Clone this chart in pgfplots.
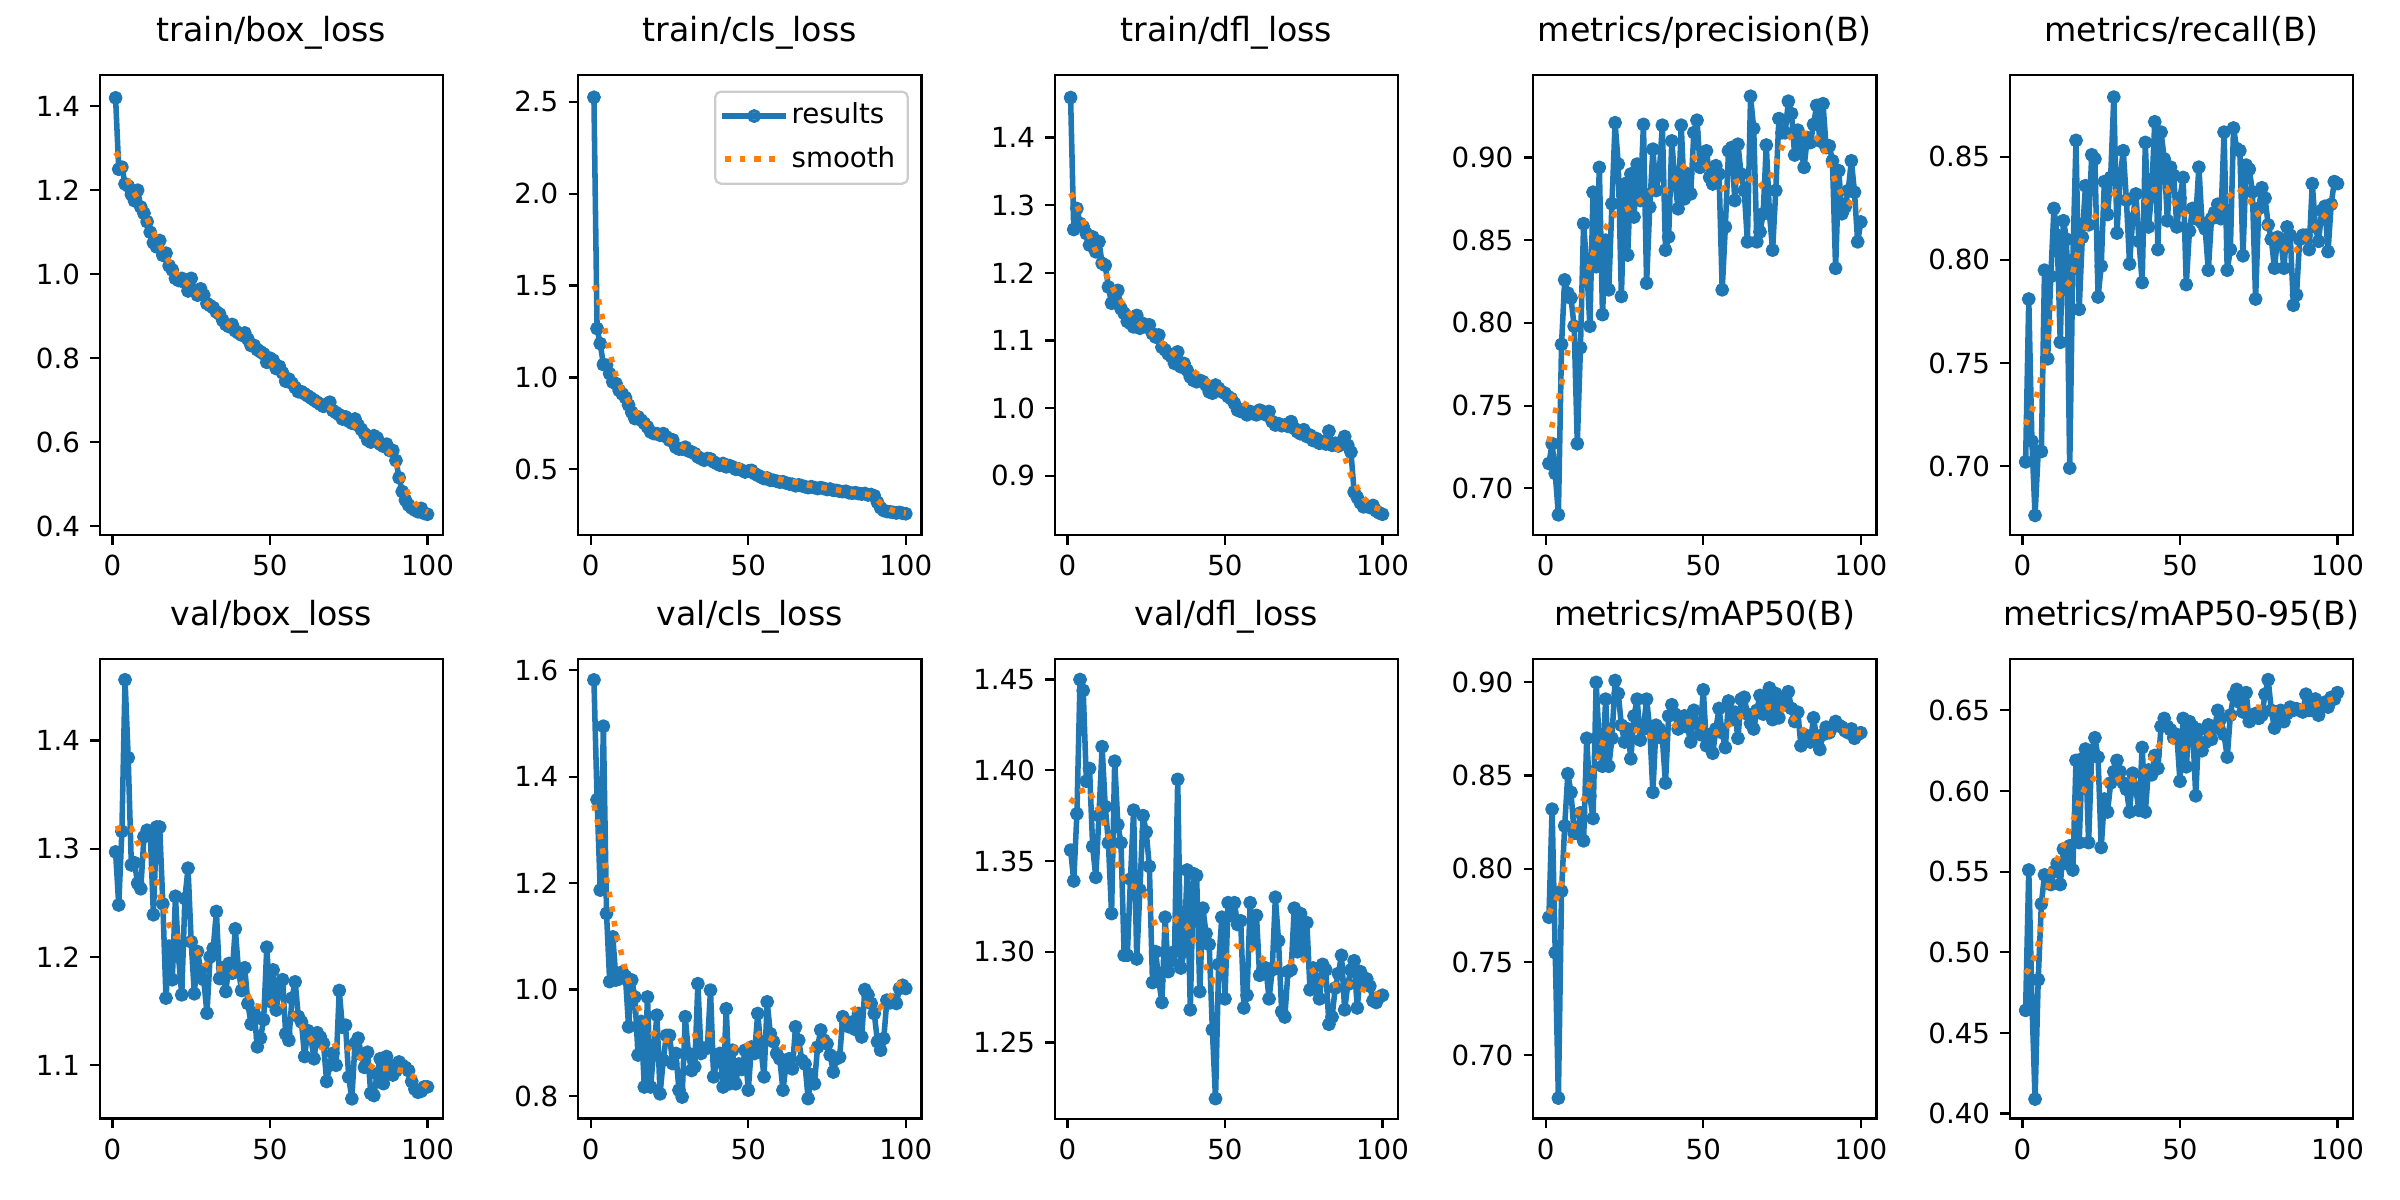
\documentclass[border=0pt]{standalone}
\usepackage{fontspec}
\setmainfont{DejaVu Sans}
\usepackage{pgfplots}
\usepackage{pgfplotstable}
\pgfplotsset{compat=1.18}

\definecolor{tabblue}{HTML}{1F77B4}
\definecolor{taborange}{HTML}{FF7F0E}
\definecolor{legframe}{rgb}{0.8,0.8,0.8}

% per-epoch results of the training run
\pgfplotstableread{
ep tbox tcls tdfl prec rec vbox vcls vdfl mfifty mrange
1 1.420 2.525 1.459 0.715 0.702 1.297 1.582 1.356 0.774 0.464
2 1.250 1.266 1.264 0.727 0.781 1.248 1.357 1.339 0.832 0.551
3 1.255 1.184 1.295 0.709 0.712 1.316 1.187 1.376 0.755 0.470
4 1.215 1.070 1.273 0.684 0.676 1.456 1.495 1.450 0.677 0.409
5 1.210 1.066 1.268 0.787 0.707 1.384 1.143 1.444 0.788 0.483
6 1.190 1.020 1.258 0.826 0.707 1.285 1.015 1.394 0.823 0.530
7 1.175 0.975 1.241 0.818 0.795 1.287 1.099 1.401 0.851 0.548
8 1.200 0.966 1.253 0.815 0.752 1.268 1.018 1.358 0.841 0.546
9 1.160 0.930 1.231 0.798 0.792 1.263 1.020 1.341 0.819 0.542
10 1.145 0.910 1.246 0.727 0.825 1.311 1.033 1.375 0.819 0.550
11 1.125 0.890 1.214 0.785 0.812 1.317 1.025 1.413 0.830 0.555
12 1.100 0.850 1.211 0.860 0.760 1.316 0.930 1.380 0.815 0.542
13 1.075 0.810 1.179 0.834 0.819 1.239 1.018 1.360 0.870 0.564
14 1.065 0.776 1.155 0.798 0.810 1.320 0.986 1.321 0.839 0.555
15 1.080 0.785 1.169 0.879 0.699 1.320 0.877 1.405 0.827 0.566
16 1.045 0.767 1.174 0.834 0.800 1.249 0.940 1.370 0.900 0.551
17 1.050 0.750 1.147 0.894 0.858 1.162 0.817 1.360 0.866 0.619
18 1.020 0.730 1.140 0.805 0.776 1.210 0.986 1.298 0.855 0.568
19 1.010 0.703 1.128 0.850 0.811 1.179 0.817 1.298 0.891 0.620
20 0.990 0.694 1.125 0.820 0.836 1.256 0.886 1.340 0.855 0.626
21 0.985 0.694 1.120 0.872 0.817 1.200 0.952 1.378 0.870 0.568
22 0.990 0.685 1.137 0.921 0.851 1.165 0.804 1.296 0.901 0.625
23 0.980 0.694 1.118 0.896 0.849 1.254 0.867 1.334 0.894 0.633
24 0.960 0.676 1.125 0.816 0.782 1.282 0.914 1.375 0.877 0.621
25 0.990 0.658 1.120 0.884 0.797 1.214 0.914 1.366 0.868 0.565
26 0.960 0.660 1.123 0.841 0.838 1.166 0.861 1.347 0.875 0.595
27 0.950 0.620 1.110 0.890 0.822 1.205 0.880 1.283 0.859 0.587
28 0.965 0.610 1.105 0.864 0.840 1.188 0.811 1.300 0.882 0.605
29 0.950 0.610 1.108 0.896 0.879 1.179 0.798 1.284 0.891 0.612
30 0.930 0.620 1.090 0.874 0.813 1.148 0.949 1.272 0.869 0.619
31 0.925 0.600 1.086 0.920 0.840 1.200 0.880 1.319 0.875 0.612
32 0.920 0.594 1.080 0.824 0.853 1.208 0.848 1.289 0.891 0.605
33 0.910 0.585 1.076 0.870 0.829 1.242 0.855 1.295 0.875 0.601
34 0.905 0.567 1.066 0.905 0.798 1.180 1.011 1.300 0.841 0.587
35 0.890 0.558 1.083 0.880 0.820 1.190 0.880 1.395 0.877 0.611
36 0.880 0.549 1.061 0.890 0.832 1.168 0.890 1.291 0.875 0.601
37 0.875 0.558 1.066 0.9195 0.809 1.194 0.890 1.300 0.870 0.588
38 0.880 0.556 1.056 0.844 0.789 1.185 0.999 1.345 0.846 0.627
39 0.865 0.540 1.046 0.852 0.857 1.226 0.836 1.268 0.882 0.587
40 0.860 0.531 1.041 0.910 0.816 1.188 0.867 1.343 0.888 0.613
41 0.855 0.522 1.039 0.885 0.832 1.169 0.880 1.342 0.883 0.610
42 0.860 0.531 1.041 0.869 0.867 1.190 0.817 1.278 0.875 0.622
43 0.845 0.513 1.039 0.9195 0.805 1.157 0.964 1.324 0.880 0.614
44 0.830 0.520 1.034 0.875 0.862 1.138 0.823 1.310 0.882 0.640
45 0.830 0.513 1.024 0.890 0.849 1.148 0.886 1.304 0.876 0.645
46 0.820 0.500 1.022 0.878 0.819 1.117 0.823 1.257 0.868 0.640
47 0.815 0.502 1.034 0.915 0.845 1.125 0.860 1.219 0.885 0.638
48 0.810 0.494 1.029 0.9225 0.841 1.142 0.850 1.293 0.878 0.633
49 0.790 0.485 1.024 0.894 0.816 1.209 0.886 1.319 0.872 0.635
50 0.800 0.490 1.022 0.900 0.830 1.159 0.811 1.274 0.896 0.606
51 0.795 0.494 1.017 0.904 0.840 1.188 0.892 1.327 0.866 0.645
52 0.775 0.476 1.014 0.888 0.788 1.151 0.880 1.320 0.872 0.615
53 0.780 0.467 1.007 0.884 0.814 1.172 0.955 1.327 0.862 0.643
54 0.765 0.458 0.997 0.895 0.825 1.179 0.890 1.315 0.875 0.640
55 0.745 0.449 0.995 0.890 0.820 1.129 0.836 1.317 0.886 0.597
56 0.750 0.452 0.998 0.820 0.845 1.123 0.977 1.269 0.873 0.638
57 0.740 0.440 0.990 0.858 0.818 1.162 0.917 1.276 0.865 0.625
58 0.730 0.440 0.995 0.904 0.815 1.177 0.902 1.327 0.890 0.630
59 0.720 0.435 0.992 0.906 0.795 1.145 0.880 1.305 0.880 0.641
60 0.720 0.430 0.990 0.874 0.820 1.140 0.870 1.320 0.884 0.632
61 0.715 0.432 0.997 0.908 0.823 1.108 0.811 1.287 0.870 0.639
62 0.710 0.425 0.995 0.890 0.827 1.132 0.860 1.290 0.891 0.650
63 0.705 0.420 0.990 0.880 0.820 1.125 0.870 1.291 0.892 0.645
64 0.700 0.418 0.995 0.849 0.862 1.106 0.851 1.274 0.883 0.635
65 0.695 0.410 0.980 0.937 0.795 1.130 0.930 1.290 0.878 0.621
66 0.690 0.415 0.975 0.9175 0.805 1.126 0.905 1.330 0.875 0.647
67 0.685 0.410 0.977 0.849 0.864 1.120 0.867 1.306 0.885 0.659
68 0.690 0.405 0.974 0.855 0.854 1.085 0.860 1.267 0.893 0.663
69 0.695 0.400 0.975 0.866 0.853 1.100 0.795 1.264 0.883 0.655
70 0.675 0.405 0.973 0.9075 0.802 1.111 0.840 1.289 0.890 0.649
71 0.670 0.400 0.980 0.866 0.846 1.100 0.823 1.290 0.897 0.661
72 0.665 0.395 0.970 0.844 0.844 1.169 0.892 1.324 0.880 0.643
73 0.655 0.400 0.965 0.880 0.833 1.135 0.924 1.300 0.894 0.645
74 0.660 0.395 0.962 0.9235 0.781 1.137 0.905 1.321 0.881 0.648
75 0.650 0.390 0.968 0.915 0.825 1.089 0.898 1.300 0.891 0.645
76 0.645 0.392 0.958 0.915 0.835 1.069 0.877 1.316 0.888 0.647
77 0.655 0.385 0.960 0.934 0.830 1.120 0.845 1.279 0.895 0.660
78 0.640 0.385 0.952 0.9265 0.817 1.125 0.870 1.291 0.886 0.669
79 0.630 0.380 0.955 0.9015 0.810 1.110 0.873 1.285 0.879 0.650
80 0.620 0.378 0.948 0.9165 0.796 1.098 0.949 1.274 0.884 0.639
81 0.605 0.380 0.950 0.905 0.811 1.112 0.936 1.293 0.866 0.645
82 0.600 0.372 0.947 0.894 0.810 1.074 0.930 1.290 0.872 0.650
83 0.615 0.370 0.966 0.912 0.796 1.072 0.939 1.260 0.870 0.643
84 0.610 0.372 0.945 0.909 0.816 1.092 0.925 1.264 0.868 0.648
85 0.595 0.368 0.948 0.920 0.812 1.106 0.955 1.280 0.881 0.652
86 0.590 0.365 0.944 0.9315 0.778 1.083 0.911 1.288 0.870 0.650
87 0.595 0.368 0.950 0.910 0.783 1.108 1.000 1.298 0.864 0.651
88 0.580 0.360 0.958 0.9325 0.810 1.100 0.990 1.268 0.872 0.650
89 0.580 0.362 0.945 0.906 0.812 1.091 0.974 1.282 0.876 0.649
90 0.556 0.355 0.935 0.907 0.812 1.095 0.955 1.290 0.873 0.660
91 0.515 0.320 0.876 0.898 0.805 1.103 0.902 1.295 0.876 0.650
92 0.482 0.290 0.868 0.833 0.837 1.100 0.886 1.269 0.879 0.650
93 0.462 0.275 0.860 0.892 0.816 1.098 0.908 1.289 0.877 0.657
94 0.450 0.270 0.854 0.866 0.809 1.095 0.980 1.283 0.876 0.647
95 0.443 0.268 0.855 0.870 0.824 1.085 0.975 1.285 0.874 0.652
96 0.438 0.265 0.853 0.880 0.826 1.078 0.980 1.281 0.873 0.655
97 0.434 0.262 0.856 0.898 0.804 1.075 0.974 1.273 0.875 0.652
98 0.442 0.265 0.848 0.879 0.827 1.076 1.002 1.272 0.870 0.658
99 0.430 0.260 0.845 0.849 0.838 1.080 1.008 1.275 0.872 0.657
100 0.428 0.258 0.843 0.861 0.837 1.080 1.002 1.276 0.873 0.661
}\results

\pgfplotsset{
  panel/.style={
    scale only axis, width=123.5bp, height=165.5bp, anchor=south west,
    xmin=-3.95, xmax=104.95, xtick={0,50,100},
    tick align=outside, tick pos=left, major tick length=3.5bp,
    every tick/.style={black, line width=0.8bp},
    axis line style={line width=0.8bp},
    ticklabel style={font=\fontsize{10}{12}\selectfont, inner sep=0pt},
    xticklabel style={yshift=-3.5bp},
    yticklabel style={xshift=-3.5bp},
    /pgf/number format/assume math mode=true,
    scaled y ticks=false,
    clip marker paths=true,
    title style={font=\fontsize{12}{14}\selectfont, anchor=base, yshift=6bp, inner sep=0pt},
    legend image code/.code={\draw[mark repeat=2,mark phase=2,##1] plot coordinates {(0bp,0bp) (10.5bp,0bp) (21bp,0bp)};},
  },
  yprec/.style={yticklabel style={/pgf/number format/.cd, fixed, fixed zerofill, precision=#1}},
  res/.style={tabblue, line width=2bp, line join=round, line cap=rect, mark=*, mark size=2bp, mark options={solid, line width=1bp}},
  smo/.style={taborange, line width=2bp, dash pattern=on 2bp off 3.3bp, no marks},
}

\begin{document}
\begin{tikzpicture}
\path (0,0) rectangle (864bp,432bp);

% top row
\begin{axis}[panel, at={(36bp,239.4bp)}, title={train/box\_loss},
  ymin=0.3786, ymax=1.4738, ytick={0.4,0.6,0.8,1.0,1.2,1.4}, yprec=1]
\addplot[res] table[x=ep, y=tbox] {\results};
\addplot[smo] coordinates {(1,1.29) (2,1.28) (4,1.24) (6,1.205) (8,1.18) (10,1.15) (12,1.115) (14,1.085) (16,1.055) (18,1.03) (20,1.005) (22,0.99) (24,0.975) (26,0.96) (28,0.945) (30,0.93) (33,0.905) (36,0.885) (40,0.858) (45,0.825) (50,0.79) (55,0.755) (60,0.72) (65,0.697) (70,0.677) (75,0.65) (80,0.62) (85,0.593) (88,0.575) (90,0.55) (92,0.51) (94,0.475) (96,0.455) (98,0.44) (100,0.433)};
\end{axis}

\begin{axis}[panel, at={(208.2bp,239.4bp)}, title={train/cls\_loss},
  ymin=0.142, ymax=2.645, ytick={0.5,1.0,1.5,2.0,2.5}, yprec=1,
  legend cell align=left,
  legend style={at={(1,1)}, anchor=north east, xshift=-4.5bp, yshift=-5.5bp,
    draw=legframe, line width=0.8bp, rounded corners=2bp, fill=white,
    fill opacity=0.8, text opacity=1, font=\fontsize{10}{12}\selectfont,
    inner xsep=2.5bp, inner ysep=2bp, row sep=2bp,
    nodes={inner sep=2bp, text depth=0.2em}}]
\addplot[res] table[x=ep, y=tcls] {\results};
\addlegendentry{results}
\addplot[smo] coordinates {(1,1.5) (2,1.46) (3,1.38) (4,1.3) (5,1.22) (6,1.14) (7,1.07) (8,1.01) (9,0.97) (10,0.93) (12,0.87) (14,0.82) (17,0.758) (20,0.708) (22,0.68) (25,0.655) (29,0.625) (33,0.597) (38,0.56) (42,0.54) (47,0.52) (51,0.5) (56,0.467) (60,0.445) (65,0.43) (70,0.41) (75,0.397) (80,0.383) (85,0.37) (88,0.362) (90,0.348) (92,0.315) (94,0.29) (96,0.275) (98,0.266) (100,0.262)};
\addlegendentry{smooth}
\end{axis}

\begin{axis}[panel, at={(379.8bp,239.4bp)}, title={train/dfl\_loss},
  ymin=0.8124, ymax=1.492, ytick={0.9,1.0,1.1,1.2,1.3,1.4}, yprec=1]
\addplot[res] table[x=ep, y=tdfl] {\results};
\addplot[smo] coordinates {(1,1.318) (3,1.3) (5,1.277) (7,1.254) (9,1.232) (11,1.21) (13,1.19) (15,1.172) (17,1.158) (20,1.138) (23,1.124) (26,1.113) (30,1.097) (34,1.079) (37,1.067) (40,1.055) (44,1.04) (48,1.029) (52,1.018) (56,1.007) (60,0.997) (64,0.985) (68,0.976) (72,0.968) (77,0.96) (81,0.953) (85,0.944) (88,0.928) (90,0.9) (92,0.882) (94,0.867) (97,0.854) (100,0.849)};
\end{axis}

\begin{axis}[panel, at={(552bp,239.4bp)}, title={metrics/precision(B)},
  ymin=0.6718, ymax=0.9497, ytick={0.70,0.75,0.80,0.85,0.90}, yprec=2]
\addplot[res] table[x=ep, y=prec] {\results};
\addplot[smo] coordinates {(1,0.728) (2,0.738) (3,0.746) (4,0.754) (5,0.763) (6,0.774) (7,0.783) (8,0.791) (9,0.799) (10,0.807) (11,0.815) (12,0.822) (13,0.829) (14,0.835) (15,0.842) (17,0.852) (19.5,0.859) (22,0.866) (26,0.869) (30,0.874) (34,0.88) (38,0.88) (41,0.887) (43.5,0.894) (47,0.9) (50.5,0.896) (53,0.888) (56,0.881) (60,0.885) (64,0.888) (67.5,0.882) (71,0.887) (72.7,0.894) (74.3,0.903) (76,0.911) (80,0.9145) (84.4,0.9145) (87.5,0.909) (90.7,0.892) (92.3,0.884) (94.4,0.876) (98,0.87) (100,0.868)};
\end{axis}

\begin{axis}[panel, at={(723.6bp,239.4bp)}, title={metrics/recall(B)},
  ymin=0.6665, ymax=0.8896, ytick={0.70,0.75,0.80,0.85}, yprec=2]
\addplot[res] table[x=ep, y=rec] {\results};
\addplot[smo] coordinates {(1,0.72) (2,0.724) (3,0.727) (4,0.731) (5,0.737) (6,0.744) (7,0.752) (8,0.762) (9,0.771) (10,0.779) (12.6,0.785) (15.3,0.79) (16.5,0.797) (17.6,0.804) (19,0.811) (20.6,0.818) (23.7,0.822) (26.9,0.828) (29.6,0.833) (33,0.83) (35.9,0.824) (39,0.828) (41.7,0.834) (45.7,0.835) (48.1,0.828) (50.7,0.823) (55,0.82) (59.2,0.819) (62.4,0.824) (65,0.83) (68.2,0.835) (71.4,0.831) (74,0.824) (76.7,0.818) (79.3,0.812) (82,0.807) (85.7,0.803) (88.9,0.808) (91.5,0.814) (94.7,0.819) (97.7,0.825) (100,0.828)};
\end{axis}

% bottom row
\begin{axis}[panel, at={(36bp,29.3bp)}, title={val/box\_loss},
  ymin=1.0507, ymax=1.4753, ytick={1.1,1.2,1.3,1.4}, yprec=1]
\addplot[res] table[x=ep, y=vbox] {\results};
\addplot[smo] coordinates {(1,1.318) (2,1.319) (6,1.319) (7.7,1.307) (10.3,1.295) (12.2,1.282) (14,1.27) (15,1.257) (16.5,1.244) (17.7,1.231) (20,1.219) (24.3,1.218) (26.7,1.206) (29,1.194) (32.5,1.189) (36.7,1.189) (40.4,1.18) (42.5,1.168) (44.6,1.155) (48.3,1.154) (52,1.161) (55.7,1.151) (59,1.142) (61.5,1.13) (64.1,1.12) (67.8,1.114) (72,1.12) (75.7,1.114) (79.4,1.105) (83.1,1.097) (87.9,1.097) (92.4,1.095) (96.3,1.088) (100,1.08)};
\end{axis}

\begin{axis}[panel, at={(208.2bp,29.3bp)}, title={val/cls\_loss},
  ymin=0.7575, ymax=1.6215, ytick={0.8,1.0,1.2,1.4,1.6}, yprec=1]
\addplot[res] table[x=ep, y=vcls] {\results};
\addplot[smo] coordinates {(1,1.347) (2,1.319) (3,1.29) (3.7,1.264) (4.5,1.237) (5,1.209) (5.9,1.181) (6.7,1.154) (7.4,1.128) (8.3,1.099) (9.6,1.071) (10.6,1.046) (11.7,1.021) (13.3,0.993) (14.9,0.968) (17,0.942) (19.5,0.92) (23.4,0.905) (27.7,0.902) (31.6,0.911) (35.6,0.917) (39.7,0.914) (43.3,0.898) (46.8,0.886) (50.5,0.898) (53.5,0.917) (57.4,0.908) (60.6,0.892) (64.9,0.889) (69.7,0.886) (73.4,0.902) (77.1,0.917) (80.1,0.939) (83,0.961) (87.2,0.974) (91.5,0.964) (95,0.986) (97.9,1.011) (100,1.015)};
\end{axis}

\begin{axis}[panel, at={(379.8bp,29.3bp)}, title={val/dfl\_loss},
  ymin=1.208, ymax=1.4614, ytick={1.25,1.30,1.35,1.40,1.45}, yprec=2]
\addplot[res] table[x=ep, y=vdfl] {\results};
\addplot[smo] coordinates {(1,1.382) (3.4,1.388) (6.6,1.39) (8.7,1.382) (10.8,1.375) (12.4,1.367) (14,1.359) (15.1,1.352) (16.7,1.344) (18.8,1.337) (23,1.335) (25.4,1.329) (26.8,1.32) (28.3,1.313) (31.5,1.312) (34.7,1.318) (37.9,1.314) (40.2,1.306) (42.1,1.299) (43.9,1.292) (46.2,1.284) (49,1.29) (50.6,1.297) (53.6,1.303) (58.3,1.302) (62,1.296) (66.2,1.293) (70.5,1.294) (74.2,1.297) (77,1.292) (79.8,1.284) (83.5,1.281) (88.3,1.283) (92.6,1.28) (96.8,1.277) (100,1.276)};
\end{axis}

\begin{axis}[panel, at={(552bp,29.3bp)}, title={metrics/mAP50(B)},
  ymin=0.666, ymax=0.9126, ytick={0.70,0.75,0.80,0.85,0.90}, yprec=2]
\addplot[res] table[x=ep, y=mfifty] {\results};
\addplot[smo] coordinates {(1,0.776) (1.9,0.779) (4,0.786) (5,0.793) (6,0.801) (7,0.809) (7.9,0.816) (9,0.824) (10.6,0.832) (12.5,0.839) (14,0.846) (15.3,0.854) (17,0.862) (18.3,0.869) (20.6,0.876) (24.9,0.876) (29.4,0.874) (33.3,0.871) (37.6,0.871) (41,0.877) (45.3,0.879) (49.7,0.876) (54,0.873) (58,0.877) (62,0.882) (66.1,0.884) (70.7,0.887) (74.9,0.886) (78.5,0.881) (81.3,0.875) (85.2,0.871) (89.7,0.872) (94.2,0.874) (98.9,0.873) (100,0.873)};
\end{axis}

\begin{axis}[panel, at={(723.6bp,29.3bp)}, title={metrics/mAP50-95(B)},
  ymin=0.3969, ymax=0.6819, ytick={0.40,0.45,0.50,0.55,0.60,0.65}, yprec=2]
\addplot[res] table[x=ep, y=mrange] {\results};
\addplot[smo] coordinates {(1,0.487) (1.9,0.489) (4,0.498) (5.1,0.506) (5.8,0.515) (6.6,0.524) (7.4,0.533) (8.3,0.542) (9,0.551) (11.1,0.558) (13.2,0.567) (14.8,0.576) (16.7,0.585) (18,0.594) (19.9,0.602) (23.3,0.609) (27.3,0.604) (31.2,0.608) (35.4,0.607) (38.9,0.613) (41.1,0.621) (43.6,0.629) (47.4,0.631) (51.3,0.626) (55.6,0.628) (58.7,0.634) (62.4,0.64) (66.1,0.645) (69.8,0.651) (74.6,0.652) (78.8,0.651) (83.4,0.649) (87.8,0.652) (92.3,0.653) (96.8,0.656) (100,0.658)};
\end{axis}
\end{tikzpicture}
\end{document}
